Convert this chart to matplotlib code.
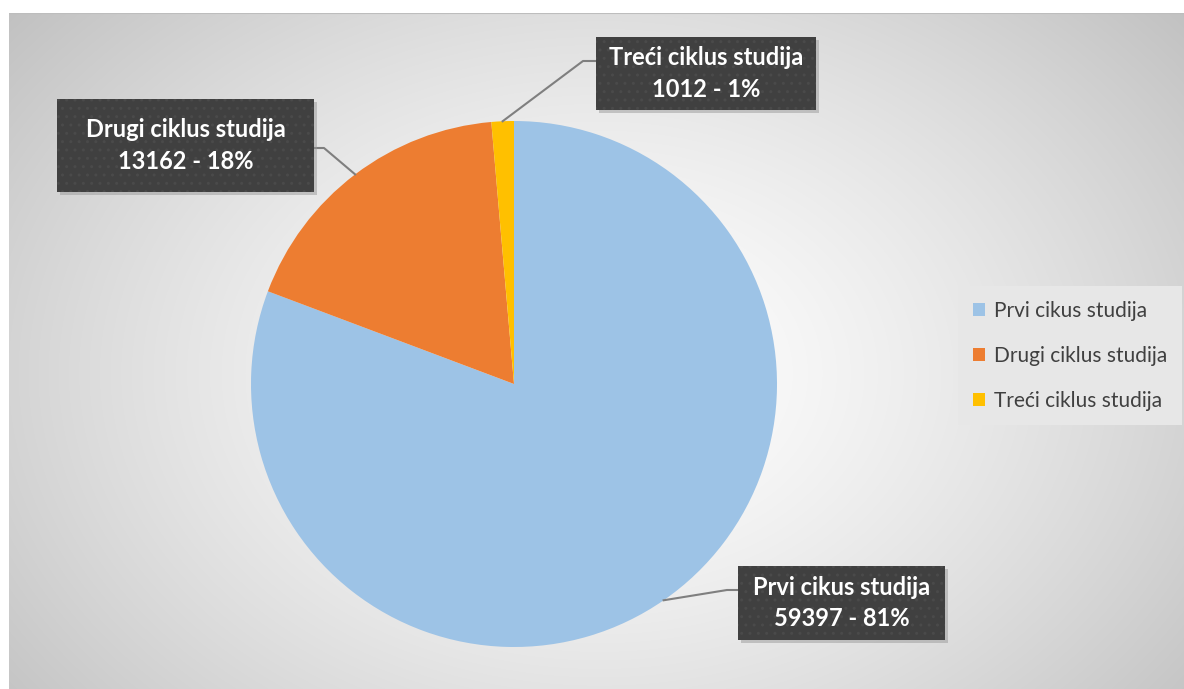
import numpy as np
import matplotlib.pyplot as plt
from matplotlib.patches import Rectangle

plt.rcParams['font.family'] = ['Lato', 'DejaVu Sans']

labels = ['Prvi cikus studija', 'Drugi ciklus studija', 'Treći ciklus studija']
values = [59397, 13162, 1012]
percents = ['81%', '18%', '1%']
colors = ['#9dc3e6', '#ed7d31', '#ffc000']

W, H = 1184, 689
fig = plt.figure(figsize=(W / 100, H / 100), dpi=100)
fig.patch.set_facecolor('white')

# chart area background: soft radial gradient
bg = fig.add_axes([9 / W, 0, (W - 9) / W, (H - 13) / H])
bg.set_axis_off()
yy, xx = np.mgrid[0:676, 0:1175]
cx, cy = 590, 360
d = np.sqrt(((xx - cx) / 760.0) ** 2 + ((yy - cy) / 560.0) ** 2)
shade = 1.0 - 0.24 * np.clip(d, 0, 1) ** 1.4
bg.imshow(np.dstack([shade] * 3), aspect='auto', extent=[0, 1, 0, 1])
bg.set_xlim(0, 1)
bg.set_ylim(0, 1)
bg.axhline(1, color='#bdbdbd', lw=1.5)

# pie axes: centre (514, 384) px, radius 263 px
cxp, cyp, r = 514, 384, 263
ax = fig.add_axes([(cxp - r) / W, (H - cyp - r) / H, 2 * r / W, 2 * r / H])
ax.set_axis_off()
wedges, _ = ax.pie(values, colors=colors, startangle=90, counterclock=False,
                   radius=1, wedgeprops=dict(linewidth=0))
ax.set_xlim(-1, 1)
ax.set_ylim(-1, 1)


def px_to_data(px, py):
    return (px - cxp) / r, (cyp - py) / r


# label boxes (pixel layout) and leader elbows
boxes = [
    dict(rect=(738, 566, 207, 74), elbow=[(738, 590), (727, 590)]),
    dict(rect=(57, 99, 257, 93), elbow=[(313, 148), (324, 148)]),
    dict(rect=(596, 37, 220, 73), elbow=[(596, 61), (583, 61)]),
]

for w, lab, val, pct, b in zip(wedges, labels, values, percents, boxes):
    mid = np.deg2rad((w.theta1 + w.theta2) / 2)
    ex, ey = np.cos(mid), np.sin(mid)
    pts = [px_to_data(*p) for p in b['elbow']] + [(ex, ey)]
    ax.plot([p[0] for p in pts], [p[1] for p in pts], color='#7f7f7f',
            lw=1.5, clip_on=False, zorder=3)
    x0, y0, bw, bh = b['rect']
    # shadow
    fig.patches.append(Rectangle(((x0 + 3) / W, (H - y0 - bh - 3) / H), bw / W, bh / H,
                                 transform=fig.transFigure, facecolor='#9a9a9a',
                                 edgecolor='none', alpha=0.5, zorder=4))
    fig.patches.append(Rectangle((x0 / W, (H - y0 - bh) / H), bw / W, bh / H,
                                 transform=fig.transFigure, facecolor='#404040',
                                 edgecolor='#4a4a4a', hatch='..', lw=0, zorder=5))
    fig.text((x0 + bw / 2) / W, (H - y0 - bh / 2) / H, f'{lab}\n{val} - {pct}',
             ha='center', va='center', color='white', fontsize=17,
             fontweight='bold', linespacing=1.45, zorder=6)

leg = fig.legend(wedges, labels, loc='upper left',
                 bbox_to_anchor=(958 / W, (H - 286) / H),
                 frameon=True, fancybox=False, facecolor='#e7e7e7', edgecolor='none',
                 framealpha=1, fontsize=15, labelcolor='#404040',
                 handlelength=0.6, handleheight=0.6, handletextpad=0.45,
                 labelspacing=1.2, borderpad=0.7, borderaxespad=0)

fig.savefig('out.png', dpi=100)
